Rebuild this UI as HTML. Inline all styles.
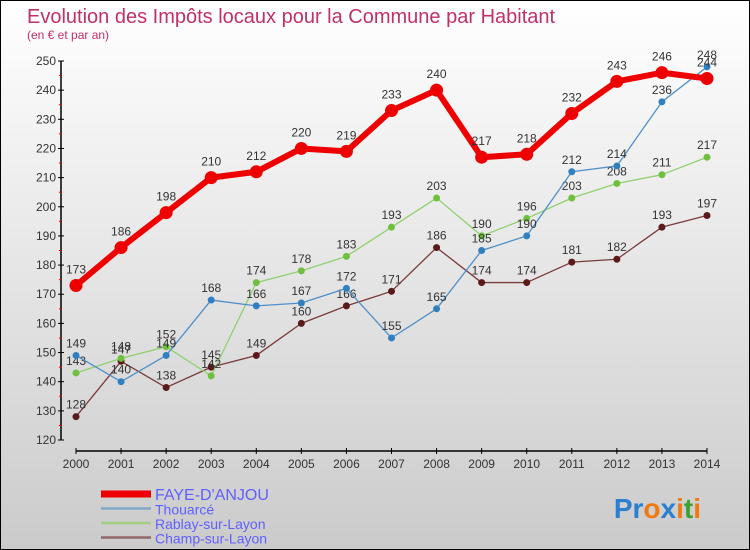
<!DOCTYPE html>
<html><head><meta charset="utf-8"><style>
body{margin:0}
#c{width:750px;height:550px;position:relative;box-sizing:border-box;border:1px solid #000;background:linear-gradient(#fff,#cbcbcb);font-family:"Liberation Sans",sans-serif;overflow:hidden}
svg{position:absolute;left:0;top:0}
</style></head><body>
<div id="c">
<svg id="s" width="750" height="550">
<text x="26" y="22" font-size="20" fill="#c0306a">Evolution des Impôts locaux pour la Commune par Habitant</text>
<text x="26" y="38" font-size="12" fill="#c0306a">(en € et par an)</text>
<text x="700" y="517" font-size="28" font-weight="bold" text-anchor="end"><tspan fill="#2a7fd0">Pr</tspan><tspan fill="#f07a10">o</tspan><tspan fill="#2a7fd0">x</tspan><tspan fill="#f07a10">i</tspan><tspan fill="#40a030">t</tspan><tspan fill="#f07a10">i</tspan></text>
</svg>
</div>
<script>
const years=["2000","2001","2002","2003","2004","2005","2006","2007","2008","2009","2010","2011","2012","2013","2014"];
const yTicks=[120,130,140,150,160,170,180,190,200,210,220,230,240,250];
const faye=[173,186,198,210,212,220,219,233,240,217,218,232,243,246,244];
const thouarce=[149,140,149,168,166,167,172,155,165,185,190,212,214,236,248];
const rablay=[143,148,152,142,174,178,183,193,203,190,196,203,208,211,217];
const champ=[128,147,138,145,149,160,166,171,186,174,174,181,182,193,197];
const NS="http://www.w3.org/2000/svg",svg=document.getElementById('s');
function X(i){return 75+i*(706-75)/(years.length-1);}
function Y(v){return 439-(v-120)*(439-60)/130;}
function mk(t,a,p){const e=document.createElementNS(NS,t);for(const k in a)e.setAttribute(k,a[k]);(p||svg).appendChild(e);return e;}
// axes
let ax=mk('line',{x1:60,y1:60,x2:60,y2:439,stroke:'#000','stroke-width':1.5});


let ax2=mk('line',{x1:75,y1:450,x2:706,y2:450,stroke:'#000','stroke-width':1.5});


yTicks.forEach(v=>{
  mk('line',{x1:57,y1:Y(v),x2:63,y2:Y(v),stroke:'#000'});
  if(v<250)mk('line',{x1:58,y1:Y(v+5),x2:61,y2:Y(v+5),stroke:'#e00'});
  const t=mk('text',{x:55,y:Y(v)+4,'font-size':12,'text-anchor':'end',fill:'#333'});t.textContent=v;
  
  
});
years.forEach((y,i)=>{
  mk('line',{x1:X(i),y1:447,x2:X(i),y2:453,stroke:'#000'});
  const t=mk('text',{x:X(i),y:467,'font-size':12,'text-anchor':'middle',fill:'#333'});t.textContent=y;
  
  
});
function series(d,col,dot,w,r,name,fs,dy){
  const g=mk('g',{});
  
  
  mk('polyline',{points:d.map((v,i)=>X(i)+','+Y(v)).join(' '),fill:'none',stroke:col,'stroke-width':w,'stroke-linejoin':'round'},g);
  d.forEach((v,i)=>{
    const c=mk('circle',{cx:X(i),cy:Y(v),r:r,fill:dot},g);
    
    
    const t=mk('text',{x:X(i),y:Y(v)-dy,'font-size':fs,'text-anchor':'middle',fill:'#333'},g);t.textContent=v;
  });
}
series(champ,'#7a3a3a','#5a1a1a',1.3,3.5,'champ-series',12,8);
series(rablay,'#90d070','#70c040',1.3,3.5,'rablay-series',12,8);
series(thouarce,'#5090c8','#3080c0',1.3,3.5,'thouarce-series',12,8);
series(faye,'#ee0000','#ee0000',6,6.5,'faye-series',12,12);
// legend
const leg=[["FAYE-D'ANJOU",'#ee0000',7],['Thouarcé','#80a8c8',2.5],['Rablay-sur-Layon','#a0d080',2.5],['Champ-sur-Layon','#906868',2.5]];
leg.forEach((l,i)=>{
  const y=493+i*14.5;
  const g=mk('g',{});
  
  
  mk('line',{x1:100,y1:y,x2:150,y2:y,stroke:l[1],'stroke-width':l[2]},g);
  const t=mk('text',{x:154,y:y+6,'font-size':i==0?16:14,fill:'#6060ff'},g);t.textContent=l[0];
});
</script>
</body></html>
